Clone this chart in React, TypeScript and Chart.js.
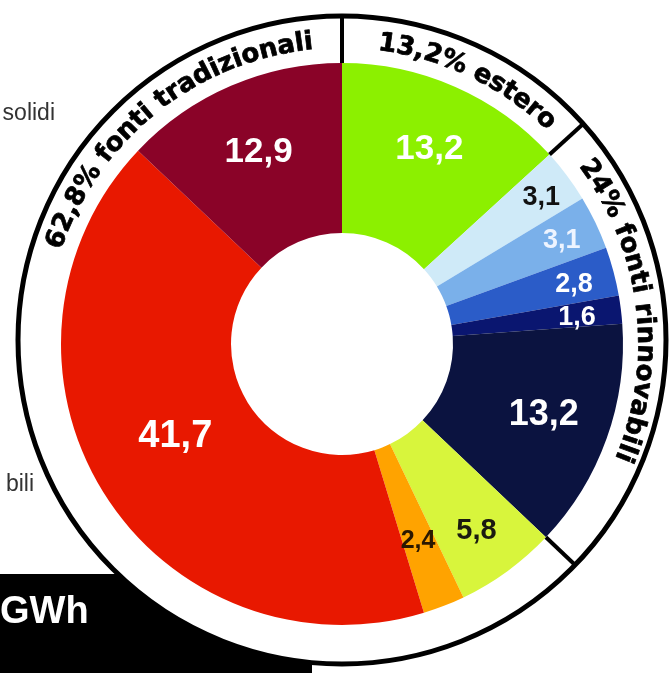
import React, { useEffect, useRef } from "react";
import { Chart, registerables } from "chart.js";

Chart.register(...registerables);

// ---- data ----
const categories = [
  "Estero",
  "Rinnovabili 1",
  "Rinnovabili 2",
  "Rinnovabili 3",
  "Rinnovabili 4",
  "Rinnovabili 5",
  "Tradizionali 1",
  "Tradizionali 2",
  "Tradizionali 3",
  "Tradizionali 4",
];
const values = [13.2, 3.1, 3.1, 2.8, 1.6, 13.2, 5.8, 2.4, 41.7, 12.9];
const groupLabels = ["62,8% fonti tradizionali", "13,2% estero", "24% fonti rinnovabili"];
const unitLabel = "GWh";
const sideLabels = ["solidi", "bili"];

// ---- style ----
const colors = [
  "#8cf000",
  "#cfeaf8",
  "#7ab0ea",
  "#2b5cc8",
  "#0a1670",
  "#0b1340",
  "#d8f53c",
  "#ffa300",
  "#e81800",
  "#8a0328",
];
// per-slice label style: radial fraction in ring, angle offset (deg), font size, colour
const labelStyle = [
  { rf: 0.62, da: 0, size: 35, color: "#ffffff" },
  { rf: 0.81, da: 0, size: 27, color: "#111111" },
  { rf: 0.78, da: 0, size: 27, color: "#eef4ff" },
  { rf: 0.76, da: 0, size: 27, color: "#ffffff" },
  { rf: 0.74, da: 0, size: 27, color: "#ffffff" },
  { rf: 0.6, da: -1, size: 36, color: "#ffffff" },
  { rf: 0.69, da: 0, size: 29, color: "#1a1a10" },
  { rf: 0.58, da: 0, size: 25, color: "#2a1800" },
  { rf: 0.46, da: 3.5, size: 38, color: "#ffffff" },
  { rf: 0.59, da: 0, size: 35, color: "#ffffff" },
];
// curved group labels: centre angle (deg clockwise from top) and angular span
const groupCenters = [-38.5, 25.4, 82.9];
const groupSpans = [66, 37, 59.6];
// slice indices whose start edge gets a divider
const dividerSlices = [0, 1, 6];

const RING_CX = 342;
const RING_CY = 340;
const RING_R = 324;

const decor = {
  id: "decor",
  beforeDraw(chart: any) {
    const ctx = chart.ctx as CanvasRenderingContext2D;
    ctx.save();
    ctx.fillStyle = "#ffffff";
    ctx.fillRect(0, 0, chart.width, chart.height);
    // black unit box
    ctx.fillStyle = "#000000";
    ctx.fillRect(0, 574, 312, 100);
    ctx.fillStyle = "#ffffff";
    ctx.font = "bold 38px 'Liberation Sans', Arial, sans-serif";
    ctx.textAlign = "left";
    ctx.textBaseline = "alphabetic";
    ctx.fillText(unitLabel, 0, 623);
    // outer circle
    ctx.beginPath();
    ctx.arc(RING_CX, RING_CY, RING_R, 0, Math.PI * 2);
    ctx.fillStyle = "#ffffff";
    ctx.fill();
    ctx.lineWidth = 5;
    ctx.strokeStyle = "#000000";
    ctx.stroke();
    // side texts
    ctx.fillStyle = "#333333";
    ctx.font = "23px 'Liberation Sans', Arial, sans-serif";
    ctx.textAlign = "right";
    ctx.fillText(sideLabels[0], 55, 120);
    ctx.fillText(sideLabels[1], 34, 491);
    ctx.restore();
  },
  afterDatasetsDraw(chart: any) {
    const ctx = chart.ctx as CanvasRenderingContext2D;
    const meta = chart.getDatasetMeta(0);
    const arcs = meta.data as any[];
    if (!arcs.length) return;
    const a0 = arcs[0];
    const cx = a0.x;
    const cy = a0.y;
    const outer = a0.outerRadius;
    const inner = a0.innerRadius;
    ctx.save();

    // dividers
    ctx.strokeStyle = "#000000";
    ctx.lineWidth = 4;
    const dx = cx - RING_CX;
    const dy = cy - RING_CY;
    dividerSlices.forEach((i) => {
      const ang = arcs[i].startAngle;
      const ux = Math.cos(ang);
      const uy = Math.sin(ang);
      const ud = ux * dx + uy * dy;
      const t = -ud + Math.sqrt(ud * ud - (dx * dx + dy * dy) + RING_R * RING_R);
      ctx.beginPath();
      ctx.moveTo(cx + ux * outer, cy + uy * outer);
      ctx.lineTo(cx + ux * t, cy + uy * t);
      ctx.stroke();
    });

    // curved group labels
    const R = 303;
    ctx.fillStyle = "#000000";
    ctx.strokeStyle = "#000000";
    ctx.lineWidth = 0.7;
    ctx.lineJoin = "round";
    ctx.font = "bold 26px 'DejaVu Sans', sans-serif";
    ctx.textAlign = "center";
    ctx.textBaseline = "middle";
    groupLabels.forEach((txt, g) => {
      const chars = Array.from(txt);
      const widths = chars.map((c) => ctx.measureText(c).width);
      const sumW = widths.reduce((s, w) => s + w, 0);
      const totalLen = ((groupSpans[g] * Math.PI) / 180) * R;
      const gap = chars.length > 1 ? (totalLen - sumW) / (chars.length - 1) : 0;
      let pos = ((groupCenters[g] * Math.PI) / 180) * R - totalLen / 2;
      chars.forEach((c, k) => {
        const th = (pos + widths[k] / 2) / R;
        const px = cx + R * Math.sin(th);
        const py = cy - R * Math.cos(th);
        ctx.save();
        ctx.translate(px, py);
        ctx.rotate(th);
        ctx.fillText(c, 0, 0);
        ctx.strokeText(c, 0, 0);
        ctx.restore();
        pos += widths[k] + gap;
      });
    });

    // value labels
    ctx.textAlign = "center";
    ctx.textBaseline = "alphabetic";
    arcs.forEach((arc, i) => {
      const st = labelStyle[i];
      const mid = (arc.startAngle + arc.endAngle) / 2 + (st.da * Math.PI) / 180;
      const r = inner + st.rf * (outer - inner);
      const x = cx + r * Math.cos(mid);
      const y = cy + r * Math.sin(mid);
      ctx.font = `bold ${st.size}px 'Liberation Sans', Arial, sans-serif`;
      ctx.fillStyle = st.color;
      ctx.fillText(values[i].toFixed(1).replace(".", ","), x, y + st.size * 0.36);
    });
    ctx.restore();
  },
};

export default function App() {
  const ref = useRef<HTMLCanvasElement>(null);
  useEffect(() => {
    const canvas = ref.current!;
    const chart = new Chart(canvas, {
      type: "doughnut",
      data: {
        labels: categories,
        datasets: [
          {
            data: values,
            backgroundColor: colors,
            borderWidth: 0,
            hoverOffset: 0,
          },
        ],
      },
      options: {
        responsive: false,
        animation: false,
        devicePixelRatio: 1,
        cutout: "39.5%",
        events: [],
        layout: { padding: { left: 61, right: 49, top: 63, bottom: 48 } },
        plugins: { legend: { display: false }, tooltip: { enabled: false } },
      } as any,
      plugins: [decor],
    });
    return () => chart.destroy();
  }, []);
  return (
    <div style={{ position: "absolute", left: 0, top: 0, width: 672, height: 673 }}>
      <canvas ref={ref} width={672} height={673} style={{ display: "block" }} />
    </div>
  );
}
